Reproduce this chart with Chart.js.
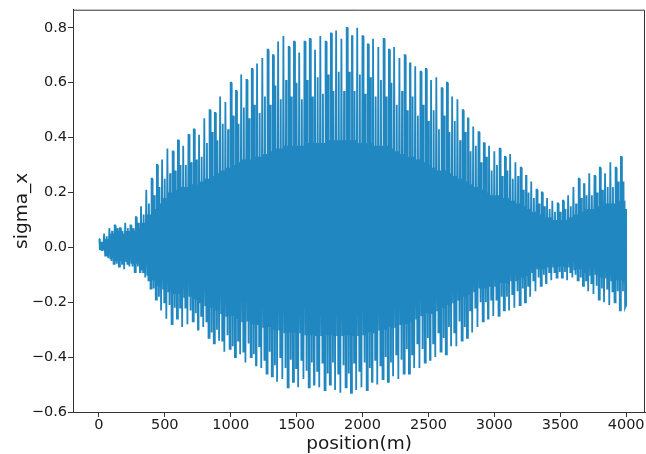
<!DOCTYPE html>
<html>
<head>
<meta charset="utf-8">
<script src="https://cdn.jsdelivr.net/npm/chart.js@4/dist/chart.umd.min.js"></script>
<style>
  html, body { margin: 0; padding: 0; background: #fff; }
  canvas { display: block; }
</style>
</head>
<body>
<canvas id="chartSigma" width="646" height="454"></canvas>
<script>
// sigma_x along the line, one row = 10 samples of 40 m (0 .. 3960), last value at 4000 m
const sampleStep = 40;
const positions = Array.from({ length: 101 }, (_, i) => i * sampleStep);

// tips of the tallest upper spikes
const upperTips = [
  0.03, 0.05, 0.07, 0.08, 0.07, 0.09, 0.08, 0.11, 0.15, 0.21,
  0.25, 0.30, 0.32, 0.36, 0.35, 0.39, 0.37, 0.41, 0.43, 0.41,
  0.47, 0.50, 0.49, 0.55, 0.53, 0.60, 0.57, 0.63, 0.61, 0.65,
  0.67, 0.69, 0.72, 0.70, 0.75, 0.77, 0.73, 0.75, 0.71, 0.75,
  0.76, 0.72, 0.77, 0.75, 0.78, 0.79, 0.76, 0.80, 0.77, 0.80,
  0.77, 0.74, 0.76, 0.73, 0.76, 0.72, 0.73, 0.69, 0.70, 0.67,
  0.66, 0.64, 0.65, 0.61, 0.62, 0.58, 0.60, 0.55, 0.54, 0.50,
  0.47, 0.44, 0.42, 0.38, 0.37, 0.35, 0.36, 0.33, 0.34, 0.31,
  0.29, 0.26, 0.24, 0.21, 0.20, 0.18, 0.17, 0.16, 0.17, 0.19,
  0.22, 0.25, 0.23, 0.27, 0.26, 0.29, 0.27, 0.31, 0.29, 0.33,
  0.14
];

// shorter upper spikes in between
const upperMid = [
  0.02, 0.04, 0.06, 0.07, 0.06, 0.07, 0.07, 0.09, 0.12, 0.16,
  0.19, 0.22, 0.25, 0.27, 0.28, 0.30, 0.30, 0.31, 0.32, 0.33,
  0.38, 0.42, 0.39, 0.45, 0.43, 0.48, 0.45, 0.51, 0.47, 0.52,
  0.49, 0.55, 0.52, 0.59, 0.54, 0.61, 0.55, 0.60, 0.54, 0.61,
  0.55, 0.62, 0.56, 0.63, 0.57, 0.64, 0.57, 0.64, 0.57, 0.63,
  0.56, 0.62, 0.55, 0.61, 0.55, 0.60, 0.52, 0.57, 0.50, 0.55,
  0.48, 0.52, 0.46, 0.50, 0.43, 0.48, 0.42, 0.46, 0.39, 0.42,
  0.35, 0.37, 0.31, 0.33, 0.28, 0.30, 0.26, 0.28, 0.25, 0.26,
  0.21, 0.20, 0.18, 0.16, 0.15, 0.14, 0.13, 0.13, 0.14, 0.15,
  0.16, 0.18, 0.19, 0.19, 0.20, 0.21, 0.22, 0.22, 0.24, 0.24,
  0.14
];

// top of the dense core
const upperBase = [
  0.02, 0.03, 0.05, 0.06, 0.05, 0.06, 0.06, 0.07, 0.09, 0.12,
  0.14, 0.16, 0.18, 0.20, 0.21, 0.22, 0.22, 0.23, 0.23, 0.24,
  0.25, 0.26, 0.27, 0.28, 0.29, 0.30, 0.31, 0.32, 0.32, 0.33,
  0.33, 0.34, 0.35, 0.36, 0.36, 0.37, 0.37, 0.37, 0.37, 0.38,
  0.38, 0.38, 0.38, 0.39, 0.39, 0.39, 0.39, 0.39, 0.39, 0.38,
  0.38, 0.38, 0.37, 0.37, 0.37, 0.36, 0.35, 0.34, 0.33, 0.33,
  0.32, 0.31, 0.30, 0.29, 0.28, 0.28, 0.27, 0.26, 0.25, 0.24,
  0.23, 0.22, 0.21, 0.20, 0.19, 0.19, 0.18, 0.18, 0.17, 0.16,
  0.15, 0.14, 0.13, 0.12, 0.11, 0.11, 0.10, 0.10, 0.10, 0.11,
  0.12, 0.13, 0.14, 0.14, 0.15, 0.15, 0.16, 0.16, 0.17, 0.17,
  0.14
];

// bottom of the dense core
const lowerBase = [
  -0.01, -0.03, -0.04, -0.05, -0.05, -0.05, -0.06, -0.06, -0.08, -0.10,
  -0.12, -0.14, -0.15, -0.16, -0.17, -0.17, -0.18, -0.18, -0.19, -0.20,
  -0.21, -0.22, -0.23, -0.24, -0.25, -0.25, -0.26, -0.27, -0.27, -0.28,
  -0.28, -0.29, -0.29, -0.30, -0.30, -0.31, -0.31, -0.31, -0.31, -0.32,
  -0.32, -0.32, -0.32, -0.32, -0.32, -0.32, -0.32, -0.32, -0.32, -0.32,
  -0.32, -0.31, -0.31, -0.30, -0.30, -0.29, -0.29, -0.28, -0.28, -0.27,
  -0.26, -0.25, -0.24, -0.24, -0.23, -0.22, -0.21, -0.20, -0.19, -0.18,
  -0.17, -0.16, -0.15, -0.15, -0.14, -0.14, -0.13, -0.13, -0.12, -0.12,
  -0.11, -0.10, -0.09, -0.08, -0.08, -0.07, -0.07, -0.07, -0.07, -0.07,
  -0.08, -0.08, -0.09, -0.10, -0.10, -0.11, -0.11, -0.12, -0.12, -0.12,
  -0.12
];

// shorter lower spikes in between
const lowerMid = [
  -0.01, -0.03, -0.05, -0.06, -0.06, -0.06, -0.07, -0.07, -0.09, -0.12,
  -0.15, -0.18, -0.20, -0.21, -0.22, -0.22, -0.22, -0.23, -0.24, -0.25,
  -0.27, -0.31, -0.30, -0.34, -0.32, -0.36, -0.34, -0.38, -0.35, -0.39,
  -0.36, -0.41, -0.38, -0.43, -0.40, -0.44, -0.41, -0.44, -0.41, -0.45,
  -0.42, -0.45, -0.42, -0.46, -0.42, -0.46, -0.43, -0.46, -0.42, -0.45,
  -0.42, -0.44, -0.41, -0.43, -0.40, -0.42, -0.39, -0.41, -0.37, -0.39,
  -0.35, -0.37, -0.33, -0.35, -0.31, -0.33, -0.29, -0.31, -0.27, -0.29,
  -0.23, -0.22, -0.20, -0.20, -0.19, -0.19, -0.18, -0.18, -0.17, -0.16,
  -0.15, -0.14, -0.12, -0.11, -0.10, -0.09, -0.09, -0.09, -0.09, -0.09,
  -0.10, -0.11, -0.12, -0.13, -0.14, -0.15, -0.15, -0.16, -0.16, -0.16,
  -0.16
];

// tips of the deepest lower spikes
const lowerTips = [
  -0.01, -0.04, -0.06, -0.07, -0.08, -0.07, -0.09, -0.09, -0.11, -0.15,
  -0.19, -0.23, -0.26, -0.28, -0.26, -0.29, -0.28, -0.27, -0.30, -0.29,
  -0.33, -0.35, -0.34, -0.38, -0.37, -0.40, -0.39, -0.42, -0.40, -0.43,
  -0.44, -0.46, -0.47, -0.49, -0.48, -0.51, -0.49, -0.51, -0.48, -0.51,
  -0.50, -0.51, -0.52, -0.50, -0.52, -0.53, -0.51, -0.53, -0.52, -0.51,
  -0.52, -0.49, -0.50, -0.48, -0.49, -0.47, -0.48, -0.46, -0.46, -0.44,
  -0.44, -0.42, -0.41, -0.40, -0.38, -0.39, -0.36, -0.36, -0.34, -0.33,
  -0.31, -0.29, -0.27, -0.26, -0.25, -0.25, -0.23, -0.23, -0.22, -0.21,
  -0.20, -0.18, -0.16, -0.14, -0.13, -0.12, -0.11, -0.11, -0.12, -0.11,
  -0.12, -0.14, -0.16, -0.17, -0.19, -0.20, -0.21, -0.20, -0.23, -0.22,
  -0.21
];

const xTicks = [0, 500, 1000, 1500, 2000, 2500, 3000, 3500, 4000];
const yTicks = [-0.6, -0.4, -0.2, 0.0, 0.2, 0.4, 0.6, 0.8];

// each 40 m step swings between the arrays above so the trace fills in;
// the outer tips are held for two samples so the tall spikes keep some width
const serie = [];
positions.forEach((p, i) => {
    if (i === positions.length - 1) {
        serie.push({ x: p, y: lowerTips[i] }, { x: p, y: upperTips[i] });
        return;
    }
    const ordem = [
        upperTips[i], upperTips[i], lowerBase[i], upperBase[i], lowerMid[i],
        upperMid[i], lowerBase[i], upperBase[i], lowerTips[i], lowerTips[i]
    ];
    ordem.forEach((y, k) => serie.push({ x: p + k * sampleStep / ordem.length, y }));
});

const corEixo = '#333';
const corTexto = '#1a1a1a';
const fonteTick = { family: 'DejaVu Sans', size: 14.5 };
const fonteTitulo = { family: 'DejaVu Sans', size: 18.5 };

// top and right spines
const moldura = {
    id: 'moldura',
    afterDraw(chart) {
        const { ctx, chartArea: a } = chart;
        ctx.save();
        ctx.strokeStyle = corEixo;
        ctx.lineWidth = 1;
        ctx.beginPath();
        ctx.moveTo(a.left, a.top + 0.5);
        ctx.lineTo(a.right - 0.5, a.top + 0.5);
        ctx.lineTo(a.right - 0.5, a.bottom);
        ctx.stroke();
        ctx.restore();
    }
};

new Chart('chartSigma', {
    type: 'line',
    data: {
        datasets: [{
            data: serie,
            borderColor: '#2187c0',
            borderWidth: 1.8,
            pointRadius: 0,
            tension: 0,
            fill: false
        }]
    },
    options: {
        responsive: false,
        animation: false,
        events: [],
        layout: { padding: { top: 7, right: 1, left: 0, bottom: 0 } },
        plugins: { legend: { display: false }, tooltip: { enabled: false } },
        scales: {
            x: {
                type: 'linear',
                min: -196,
                max: 4143,
                afterBuildTicks: (s) => { s.ticks = xTicks.map(v => ({ value: v })); },
                afterFit: (s) => { s.height = 42; },
                grid: { drawOnChartArea: false, tickLength: 5, color: corEixo },
                border: { color: corEixo, width: 1 },
                ticks: {
                    color: corTexto, font: fonteTick, padding: 0, maxRotation: 0, autoSkip: false,
                    callback: (v) => String(v)
                },
                title: { display: true, text: 'position(m)', color: corTexto, font: fonteTitulo, padding: { top: 0, bottom: -1 } }
            },
            y: {
                min: -0.6,
                max: 0.866,
                afterBuildTicks: (s) => { s.ticks = yTicks.map(v => ({ value: v })); },
                afterFit: (s) => { s.width = 73; },
                grid: { drawOnChartArea: false, tickLength: 5, color: corEixo },
                border: { color: corEixo, width: 1 },
                ticks: {
                    color: corTexto, font: fonteTick, padding: 1, autoSkip: false,
                    callback: (v) => v.toFixed(1).replace('-', '\u2212')
                },
                title: { display: true, text: 'sigma_x', color: corTexto, font: fonteTitulo, padding: { top: 11, bottom: 0 } }
            }
        }
    },
    plugins: [moldura]
});
</script>
</body>
</html>
